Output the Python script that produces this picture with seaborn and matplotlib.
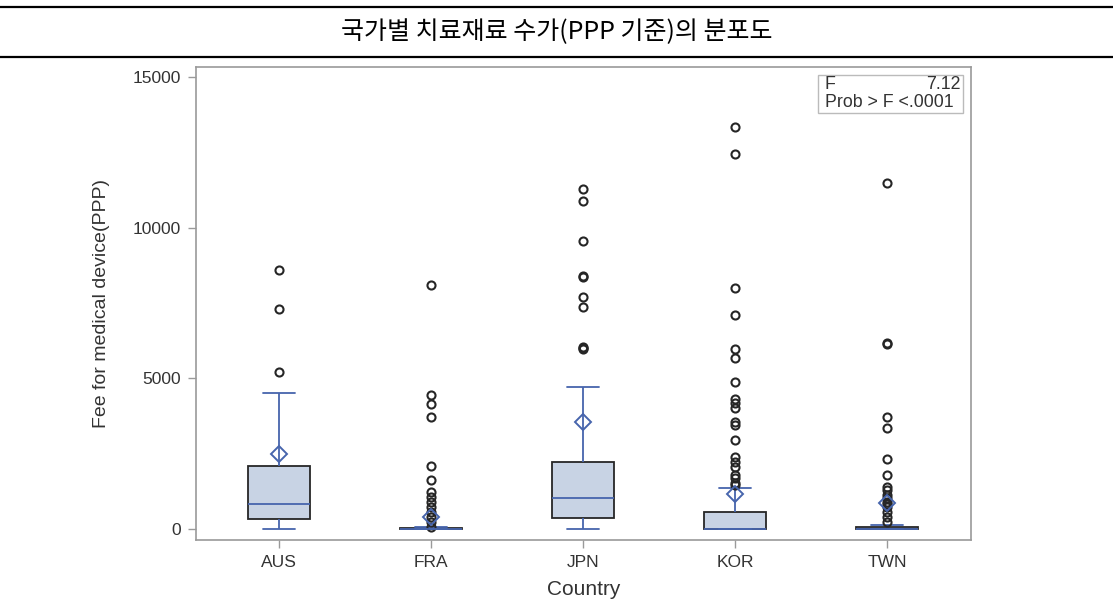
import numpy as np
import pandas as pd
import matplotlib
matplotlib.use("Agg")
import matplotlib.pyplot as plt
import seaborn as sns
from matplotlib.patches import Rectangle
from matplotlib.lines import Line2D

# Fee for medical device (PPP) by country
countries = ["AUS", "FRA", "JPN", "KOR", "TWN"]

aus_fee = [0, 40, 95, 150, 210, 270, 322, 390, 470, 560, 650, 740, 830,
           960, 1150, 1380, 1620, 1850, 2090, 2650, 3400, 4505, 5220, 7290, 8600]

fra_fee = [0, 0, 0, 0, 0, 0, 0, 0, 0, 0, 0, 0, 0, 0, 0, 0,
           1, 1, 2, 2, 3, 3, 4, 4, 5, 5, 6, 6, 7, 7, 8,
           9, 10, 11, 12, 13, 14, 15, 17, 19, 21, 23, 25, 27, 28, 30,
           60, 80, 220, 390, 555, 720, 890, 1050, 1220, 1630, 2100,
           3730, 4150, 4450, 8100]

jpn_fee = [0, 20, 45, 70, 100, 130, 160, 190, 220, 260, 290, 320, 355,
           400, 450, 510, 570, 630, 690, 750, 820, 880, 940, 980, 1020,
           1100, 1200, 1300, 1400, 1500, 1620, 1740, 1860, 1980, 2080, 2160, 2220,
           3100, 4720, 5960, 6000, 6050, 7355, 7710, 8350, 8390, 9555, 10880, 11280]

kor_fee = [0, 0, 0, 0, 0, 0, 0, 0, 0, 0, 0, 0, 0, 0, 0, 0, 0, 0, 0, 0, 0, 0, 0,
           1, 1, 2, 2, 3, 3, 4, 4, 5, 5, 6, 7, 8, 9, 10, 10, 11, 12, 13, 14, 14, 15,
           20, 30, 40, 55, 70, 90, 110, 130, 160, 190, 220, 250, 280, 310, 340,
           370, 400, 430, 470, 500, 530, 560,
           700, 1370, 1460, 1540, 1680, 1790, 2070, 2230, 2400, 2950, 3450, 3560,
           4030, 4170, 4300, 4890, 5660, 5960, 7100, 7990, 12440, 13350]

twn_fee = [0, 0, 0, 0, 0, 0, 0, 0, 0, 0, 0, 0, 0, 0, 0, 0, 0, 0, 0,
           1, 1, 2, 2, 3, 4, 5, 5, 6, 7, 8, 9, 10, 11, 12, 13, 14, 15,
           17, 19, 21, 23, 25, 27, 29, 31, 33, 36, 39, 42, 45, 48, 51, 54, 57, 60,
           130, 240, 410, 575, 740, 820, 900, 1020, 1130, 1290, 1400, 1790, 2310,
           3340, 3730, 6150, 6170, 11470]

mean_fee = [2490, 390, 3540, 1150, 870]
y_ticks = [0, 5000, 10000, 15000]
f_value = "7.12"
p_value = "<.0001"

fees = [aus_fee, fra_fee, jpn_fee, kor_fee, twn_fee]
df = pd.DataFrame({
    "Country": np.repeat(countries, [len(v) for v in fees]),
    "Fee": np.concatenate(fees).astype(float),
})

sns.set_theme(style="white")
plt.rcParams["font.family"] = ["Liberation Sans", "Noto Sans CJK KR"]

W, H = 1113, 603
fig = plt.figure(figsize=(W / 100, H / 100), dpi=100)
ax = fig.add_axes([196 / W, 1 - 540 / H, (971 - 196) / W, (540 - 67) / H])

box_fill = "#c8d3e4"
line_blue = "#4765ad"
edge_dark = "#262626"

sns.boxplot(
    data=df, x="Country", y="Fee", order=countries, width=0.41, whis=1.5,
    color=box_fill, saturation=1, linecolor=edge_dark, linewidth=1.3,
    boxprops=dict(facecolor=box_fill, edgecolor=edge_dark, linewidth=1.3),
    medianprops=dict(color=line_blue, linewidth=1.3),
    whiskerprops=dict(color=line_blue, linewidth=1.3),
    capprops=dict(color=line_blue, linewidth=1.3),
    flierprops=dict(marker="o", markersize=5.8, markerfacecolor="none",
                    markeredgecolor=edge_dark, markeredgewidth=1.5),
    ax=ax,
)

sns.pointplot(
    x=countries, y=mean_fee, order=countries, markers="D", linestyles="none",
    color=line_blue, markerfacecolor="none", markersize=8,
    markeredgewidth=1.4, errorbar=None, ax=ax,
)

ax.set_xlim(-0.546, 4.553)
ax.set_ylim(-365, 15330)
ax.set_yticks(y_ticks)
ax.set_yticklabels([str(v) for v in y_ticks])

spine_gray = "#9a9a9a"
for s in ax.spines.values():
    s.set_color(spine_gray)
    s.set_linewidth(1.2)
ax.tick_params(axis="both", which="major", length=6, width=1, color=spine_gray,
               labelsize=12.5, labelcolor="#333333", direction="out",
               bottom=True, left=True, pad=5)
ax.tick_params(axis="x", pad=5)
ax.grid(False)

ax.set_xlabel("Country", fontsize=15, color="#333333")
ax.xaxis.set_label_coords(0.5, -0.085)
ax.set_ylabel("Fee for medical device(PPP)", fontsize=14, color="#333333", labelpad=16)

# inset statistics box
ax.add_patch(Rectangle((0.8026, 0.9027), 0.1871, 0.0803, transform=ax.transAxes,
                       facecolor="white", edgecolor="#bbbbbb", linewidth=1.0, zorder=5))
ax.text(0.811, 0.963, "F", transform=ax.transAxes, fontsize=12.8, color="#333333",
        ha="left", va="center", zorder=6)
ax.text(0.986, 0.963, f_value, transform=ax.transAxes, fontsize=12.8, color="#333333",
        ha="right", va="center", zorder=6)
ax.text(0.811, 0.925, f"Prob > F {p_value}", transform=ax.transAxes, fontsize=12.8,
        color="#333333", ha="left", va="center", zorder=6)

# title with rules above and below
fig.add_artist(Line2D([0, 1], [1 - 7 / H, 1 - 7 / H], color="black", linewidth=1.6,
                      transform=fig.transFigure))
fig.add_artist(Line2D([0, 1], [1 - 57 / H, 1 - 57 / H], color="black", linewidth=1.6,
                      transform=fig.transFigure))
fig.text(0.5, 1 - 32 / H, "국가별 치료재료 수가(PPP 기준)의 분포도",
         family=["Noto Sans CJK KR", "DejaVu Sans"], fontsize=18, color="black",
         ha="center", va="center")

fig.savefig("out.png", dpi=100, facecolor="white")
